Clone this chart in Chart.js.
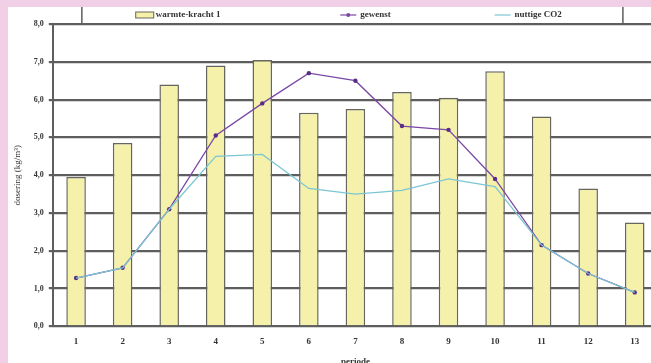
<!DOCTYPE html>
<html>
<head>
<meta charset="utf-8">
<script src="https://cdn.jsdelivr.net/npm/chart.js@4"></script>
<style>
  html, body { margin: 0; padding: 0; background: #f1d0e7; overflow: hidden; width: 651px; height: 363px; }
  #wrap { position: absolute; left: 8px; top: 7px; width: 654px; height: 360px; background: #fff; }
</style>
</head>
<body>
<div id="wrap"><canvas id="chart" width="654" height="360"></canvas></div>
<script>
const perioden = ["1", "2", "3", "4", "5", "6", "7", "8", "9", "10", "11", "12", "13"];
const warmteKracht = [3.95, 4.85, 6.4, 6.9, 7.05, 5.65, 5.75, 6.2, 6.05, 6.75, 5.55, 3.65, 2.75];
const gewenst = [1.28, 1.55, 3.1, 5.05, 5.9, 6.7, 6.5, 5.3, 5.2, 3.9, 2.15, 1.4, 0.9];
const nuttigeCO2 = [1.28, 1.55, 3.1, 4.5, 4.55, 3.65, 3.5, 3.6, 3.9, 3.7, 2.15, 1.4, 0.9];
const yTicks = [0, 1, 2, 3, 4, 5, 6, 7, 8];

const serif = "'Liberation Serif', 'DejaVu Serif', serif";
const gridColor = "#5e5e5e";

// legend in a framed strip above the plot, like the original
const boxLegend = {
  id: "boxLegend",
  afterDraw(chart) {
    const ctx = chart.ctx;
    const a = chart.chartArea;
    const w = a.right - a.left;
    ctx.save();
    ctx.strokeStyle = gridColor;
    ctx.lineWidth = 1.5;
    const x0 = a.left + w * 0.048, x1 = a.left + w * 0.942;
    ctx.beginPath();
    ctx.moveTo(x0, 0); ctx.lineTo(x0, a.top);
    ctx.moveTo(x1, 0); ctx.lineTo(x1, a.top);
    ctx.stroke();

    const y = a.top - 9;
    ctx.font = "bold 9px " + serif;
    ctx.textBaseline = "middle";
    const ds = chart.data.datasets;
    const pos = [0.137, 0.475, 0.73];
    ds.forEach((d, i) => {
      const x = a.left + w * pos[i];
      if (d.type === "bar") {
        ctx.fillStyle = d.backgroundColor;
        ctx.fillRect(x, y - 3, 18, 6);
        ctx.strokeStyle = d.borderColor;
        ctx.lineWidth = 1;
        ctx.strokeRect(x, y - 3, 18, 6);
      } else {
        ctx.strokeStyle = d.borderColor;
        ctx.lineWidth = 1.2;
        ctx.beginPath();
        ctx.moveTo(x, y); ctx.lineTo(x + 16, y);
        ctx.stroke();
        if (d.pointRadius > 0) {
          ctx.fillStyle = d.borderColor;
          ctx.beginPath();
          ctx.arc(x + 8, y, 2, 0, Math.PI * 2);
          ctx.fill();
        }
      }
      ctx.fillStyle = "#333";
      ctx.fillText(d.label, x + 20, y);
    });
    ctx.restore();
  }
};

new Chart(document.getElementById("chart"), {
  data: {
    labels: perioden,
    datasets: [
      {
        type: "bar",
        label: "warmte-kracht 1",
        data: warmteKracht,
        backgroundColor: "#f5f1aa",
        borderColor: "#66665e",
        borderWidth: 1.5,
        barPercentage: 0.42,
        categoryPercentage: 1,
        order: 3,
      },
      {
        type: "line",
        label: "gewenst",
        data: gewenst,
        borderColor: "#7a48a6",
        backgroundColor: "#5a2e86",
        borderWidth: 1.3,
        pointRadius: 2.2,
        pointBorderWidth: 0,
        tension: 0,
        order: 2,
      },
      {
        type: "line",
        label: "nuttige CO2",
        data: nuttigeCO2,
        borderColor: "#7cc6d2",
        backgroundColor: "#7cc6d2",
        borderWidth: 1.3,
        pointRadius: 0,
        tension: 0,
        order: 1,
      },
    ],
  },
  options: {
    responsive: false,
    animation: false,
    layout: { padding: { top: 17, right: 0, left: 4, bottom: 0 } },
    plugins: {
      legend: { display: false },
      tooltip: { enabled: false },
    },
    scales: {
      x: {
        grid: { display: false },
        border: { display: false },
        ticks: {
          color: "#333",
          font: { family: serif, size: 9, weight: "bold" },
          padding: 2,
          maxRotation: 0,
        },
        title: {
          display: true,
          text: "periode",
          color: "#333",
          font: { family: serif, size: 9, weight: "bold" },
          padding: { top: 7, bottom: 0 },
        },
      },
      y: {
        min: 0,
        max: 8,
        afterBuildTicks: (axis) => {
          axis.ticks = yTicks.map((v) => ({ value: v }));
        },
        grid: { color: gridColor, lineWidth: 2.2, tickLength: 4 },
        border: { color: gridColor, width: 2 },
        ticks: {
          color: "#333",
          font: { family: serif, size: 8, weight: "bold" },
          padding: 5,
          callback: (v) => v.toFixed(1).replace(".", ","),
        },
        title: {
          display: true,
          text: "dosering (kg/m³)",
          color: "#333",
          font: { family: serif, size: 9 },
          padding: { top: 0, bottom: 6 },
        },
      },
    },
  },
  plugins: [boxLegend],
});
</script>
</body>
</html>
